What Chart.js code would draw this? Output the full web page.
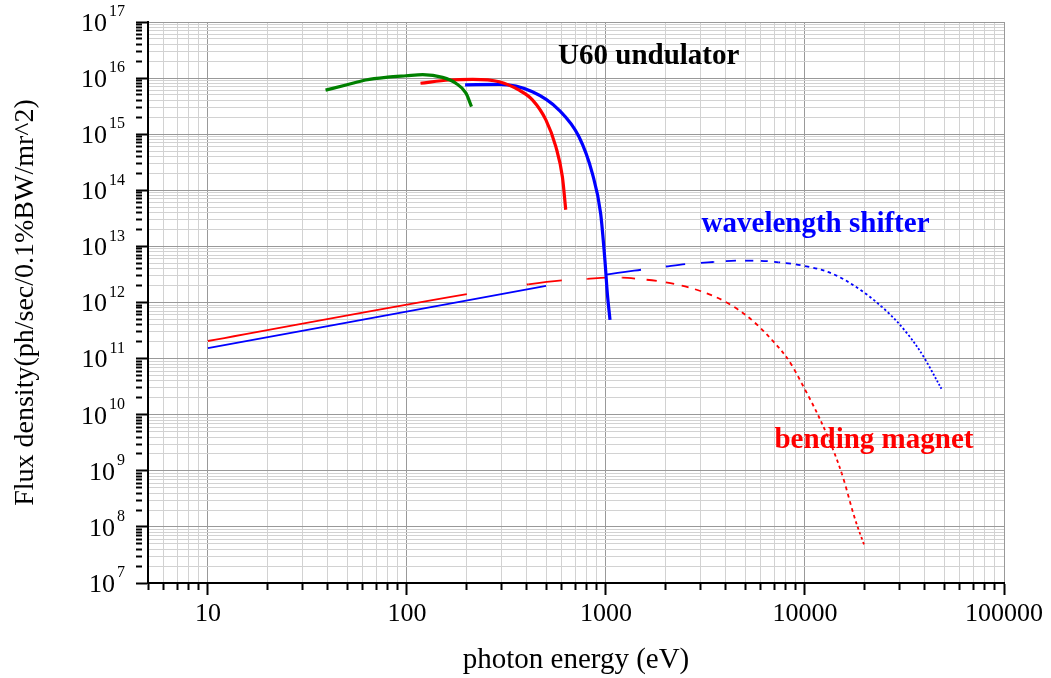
<!DOCTYPE html>
<html>
<head>
<meta charset="utf-8">
<script src="https://cdn.jsdelivr.net/npm/chart.js@4.4.1/dist/chart.umd.min.js"></script>
<style>
  html, body { margin: 0; padding: 0; background: #fff; }
  #wrap { width: 1051px; height: 678px; }
</style>
</head>
<body>
<div id="wrap"><canvas id="fluxChart" width="1051" height="678"></canvas></div>
<script>
// photon energy (eV) / flux density values
var greenE    = [39, 50, 62, 80, 99, 120, 151, 176, 198, 211];
var greenFlux = [6.1e15, 7.6e15, 9.25e15, 1.04e16, 1.10e16, 1.15e16, 1.03e16, 8.1e15, 5.4e15, 3.1e15];

var redUndE    = [117, 163, 214, 291, 366, 427, 499, 560, 604, 628];
var redUndFlux = [8.1e15, 9.25e15, 9.5e15, 8.6e15, 6.1e15, 4.1e15, 1.8e15, 6.0e14, 1.75e14, 4.5e13];

var blueUndE    = [196, 291, 427, 581, 732, 854, 940, 988, 1016, 1048];
var blueUndFlux = [7.6e15, 7.7e15, 5.7e15, 2.7e15, 9.0e14, 2.0e14, 3.9e13, 5.7e12, 1.46e12, 4.9e11];

var wlsE    = [10, 508, 996, 1510, 1968, 2506, 3475, 4550, 5730, 7360, 9820, 13600, 18500, 24300, 30600, 38500, 48500];
var wlsFlux = [1.53e11, 1.99e12, 3.12e12, 3.85e12, 4.35e12, 4.85e12, 5.27e12, 5.56e12, 5.56e12, 5.21e12, 4.53e12, 3.31e12, 1.79e12, 8.4e11, 3.7e11, 1.24e11, 2.9e10];

var bmE    = [10, 211, 407, 608, 806, 996, 1207, 1463, 1991, 2709, 3984, 5410, 6820, 8270, 9640, 12600, 15300, 17900, 20000];
var bmFlux = [2.06e11, 1.46e12, 2.11e12, 2.49e12, 2.63e12, 2.77e12, 2.77e12, 2.63e12, 2.29e12, 1.79e12, 1.03e12, 4.87e11, 2.15e11, 9.4e10, 3.6e10, 5.3e9, 9.0e8, 1.33e8, 4.4e7];

// axis ticks
var xMajor = [10, 100, 1000, 10000, 100000];
var xMajorLabels = ['10', '100', '1000', '10000', '100000'];
var yMajor = [1e7, 1e8, 1e9, 1e10, 1e11, 1e12, 1e13, 1e14, 1e15, 1e16, 1e17];
var yExponents = ['7', '8', '9', '10', '11', '12', '13', '14', '15', '16', '17'];
var minorSteps = [2, 3, 4, 5, 6, 7, 8, 9];

var FONT = '"Liberation Serif", "Times New Roman", serif';

function toPoints(xs, ys) {
    return xs.map(function (x, i) { return { x: x, y: ys[i] }; });
}

// 1,2..9 x 10^n ticks between min and max
function logTicks(min, max) {
    var ticks = [];
    var d = Math.pow(10, Math.floor(Math.log10(min)));
    while (d <= max) {
        [1].concat(minorSteps).forEach(function (m) {
            var v = m * d;
            if (v >= min * 0.999999 && v <= max * 1.000001) ticks.push({ value: v, major: m === 1 });
        });
        d *= 10;
    }
    return ticks;
}

function labelFor(value, majors, labels) {
    for (var i = 0; i < majors.length; i++) {
        if (Math.abs(value / majors[i] - 1) < 1e-9) return labels[i];
    }
    return '';
}

// the thin curves are dashed with a pattern that repeats in *linear* energy
// (on for half a period, off for the other half), so dashes get shorter on the log axis
function linearDash(period) {
    var half = period / 2;
    return function (ctx) {
        var p0 = ctx.p0, p1 = ctx.p1;
        var e0 = p0.parsed.x, e1 = p1.parsed.x;
        var len = Math.hypot(p1.x - p0.x, p1.y - p0.y);
        var l0 = Math.log(e0), l1 = Math.log(e1);
        var k = Math.floor(e0 / half);
        var pattern = [];
        if (k % 2 === 1) pattern.push(0);
        var prevT = 0;
        while (true) {
            var eb = (k + 1) * half;
            var t = eb >= e1 ? 1 : (Math.log(eb) - l0) / (l1 - l0);
            pattern.push(Math.max(0, (t - prevT) * len) + (t >= 1 ? 3 : 0));
            if (t >= 1) break;
            prevT = t;
            k++;
        }
        if (pattern.length % 2 === 1) pattern.push(len + 50);
        return pattern;
    };
}

var notes = [
    { text: 'U60 undulator', e: 1640, f: 1.78e16, color: '#000000' },
    { text: 'wavelength shifter', e: 11300, f: 1.83e13, color: '#0000ff' },
    { text: 'bending magnet', e: 22200, f: 2.5e9, color: '#ff0000' }
];

// curve labels + the 10^n labels of the flux axis (with a real superscript)
var notePlugin = {
    id: 'notes',
    afterDraw: function (chart) {
        var c = chart.ctx, xs = chart.scales.x, ys = chart.scales.y;
        c.save();
        c.font = 'bold 29px ' + FONT;
        c.textAlign = 'center';
        c.textBaseline = 'alphabetic';
        notes.forEach(function (n) {
            c.fillStyle = n.color;
            c.fillText(n.text, xs.getPixelForValue(n.e), ys.getPixelForValue(n.f));
        });

        c.fillStyle = '#000000';
        c.textAlign = 'right';
        c.textBaseline = 'middle';
        var right = ys.right - 23;
        yMajor.forEach(function (v, i) {
            var py = ys.getPixelForValue(v);
            c.font = '16px ' + FONT;
            var ew = c.measureText(yExponents[i]).width;
            c.fillText(yExponents[i], right, py - 10);
            c.font = '26px ' + FONT;
            c.fillText('10', right - ew - 2, py + 2);
        });
        c.restore();
    }
};

function isMajor(ctx) { return ctx.tick && ctx.tick.major; }

var gridOpts = {
    color: function (ctx) { return isMajor(ctx) ? '#999999' : '#d2d2d2'; },
    lineWidth: 1,
    tickColor: '#000000',
    tickLength: 12,
    tickWidth: 2,
    tickBorderDash: function (ctx) { return isMajor(ctx) ? [] : [6, 30]; }
};

var ctx = document.getElementById('fluxChart').getContext('2d');
var chart = new Chart(ctx, {
    type: 'line',
    data: {
        datasets: [{
            label: 'U60 green',
            data: toPoints(greenE, greenFlux),
            borderColor: '#008000',
            borderWidth: 3.2
        }, {
            label: 'U60 red',
            data: toPoints(redUndE, redUndFlux),
            borderColor: '#ff0000',
            borderWidth: 3.2
        }, {
            label: 'U60 blue',
            data: toPoints(blueUndE, blueUndFlux),
            borderColor: '#0000ff',
            borderWidth: 3.2
        }, {
            label: 'wavelength shifter',
            data: toPoints(wlsE, wlsFlux),
            borderColor: '#0000ff',
            borderWidth: 1.8,
            segment: { borderDash: linearDash(1000) }
        }, {
            label: 'bending magnet',
            data: toPoints(bmE, bmFlux),
            borderColor: '#ff0000',
            borderWidth: 1.8,
            segment: { borderDash: linearDash(400) }
        }]
    },
    options: {
        responsive: false,
        animation: false,
        layout: { padding: { top: 22, right: 47, left: 0, bottom: 0 } },
        elements: {
            point: { radius: 0 },
            line: { cubicInterpolationMode: 'monotone', borderCapStyle: 'butt' }
        },
        plugins: {
            legend: { display: false },
            tooltip: { enabled: false }
        },
        scales: {
            x: {
                type: 'logarithmic',
                min: 5,
                max: 100000,
                afterBuildTicks: function (scale) { scale.ticks = logTicks(5, 100000); },
                afterFit: function (scale) {
                    scale.height = 95;
                    scale.paddingLeft = 0;
                    scale.paddingRight = 0;
                },
                grid: gridOpts,
                border: { color: '#000000', width: 2 },
                ticks: {
                    autoSkip: false,
                    maxRotation: 0,
                    padding: 4,
                    color: '#000000',
                    font: { family: FONT, size: 26 },
                    callback: function (value) { return labelFor(value, xMajor, xMajorLabels); }
                },
                title: {
                    display: true,
                    text: 'photon energy (eV)',
                    color: '#000000',
                    font: { family: FONT, size: 29, lineHeight: 1 },
                    padding: { top: 0, bottom: 3 }
                }
            },
            y: {
                type: 'logarithmic',
                min: 1e7,
                max: 1e17,
                afterBuildTicks: function (scale) { scale.ticks = logTicks(1e7, 1e17); },
                afterFit: function (scale) {
                    scale.width = 148;
                    scale.paddingTop = 0;
                    scale.paddingBottom = 0;
                },
                grid: gridOpts,
                border: { color: '#000000', width: 2 },
                ticks: {
                    display: false,
                    autoSkip: false,
                    callback: function (value) { return labelFor(value, yMajor, yExponents); }
                },
                title: {
                    display: true,
                    text: 'Flux density(ph/sec/0.1%BW/mr^2)',
                    color: '#000000',
                    font: { family: FONT, size: 28, lineHeight: 1 },
                    padding: { top: 12, bottom: 0 }
                }
            }
        }
    },
    plugins: [notePlugin]
});
</script>
</body>
</html>
